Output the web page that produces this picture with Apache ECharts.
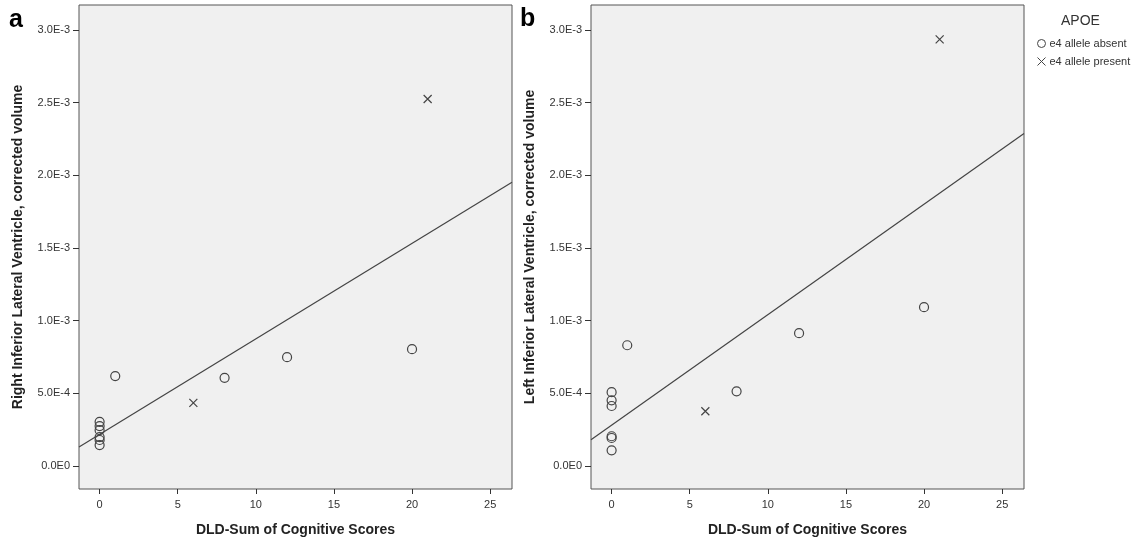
<!DOCTYPE html>
<html>
<head>
<meta charset="utf-8">
<script src="https://cdn.jsdelivr.net/npm/echarts@6/dist/echarts.min.js"></script>
<style>html,body{margin:0;padding:0;background:#fff}#c{width:1145px;height:544px}</style>
</head>
<body>
<div id="c"></div>
<script>
// Panel a: Right Inferior Lateral Ventricle
const xLeftAbsent  = [0, 0, 0, 0, 0, 0, 1, 8, 12, 20];
const yLeftAbsent  = [0.000304, 0.000275, 0.000247, 0.000199, 0.000179, 0.000144, 0.000619, 0.000607, 0.000749, 0.000804];
const xLeftPresent = [6, 21];
const yLeftPresent = [0.000435, 0.002525];
// Panel b: Left Inferior Lateral Ventricle
const xRightAbsent  = [0, 0, 0, 0, 0, 0, 1, 8, 12, 20];
const yRightAbsent  = [0.000508, 0.000452, 0.000413, 0.000205, 0.000193, 0.000108, 0.000831, 0.000514, 0.000914, 0.001093];
const xRightPresent = [6, 21];
const yRightPresent = [0.000377, 0.002936];

const xTicks = [0, 5, 10, 15, 20, 25];
const yTicks = [0, 0.0005, 0.001, 0.0015, 0.002, 0.0025, 0.003];
const legendNames = ['e4 allele absent', 'e4 allele present'];
const yTitles = ['Right Inferior Lateral Ventricle, corrected volume', 'Left Inferior Lateral Ventricle, corrected volume'];
const xTitle = 'DLD-Sum of Cognitive Scores';
const panelLabels = ['a', 'b'];

const X_MIN = -1.32, X_MAX = 26.4, Y_MIN = -0.000158, Y_MAX = 0.003172;
const FONT = 'Arial, "Liberation Sans", sans-serif';

function zip(xs, ys) { return xs.map((x, i) => [x, ys[i]]); }
function fit(xs, ys) {
  const n = xs.length;
  const mx = xs.reduce((a, b) => a + b, 0) / n;
  const my = ys.reduce((a, b) => a + b, 0) / n;
  let sxy = 0, sxx = 0;
  for (let i = 0; i < n; i++) { sxy += (xs[i] - mx) * (ys[i] - my); sxx += (xs[i] - mx) ** 2; }
  const b = sxy / sxx, a = my - b * mx;
  return [[X_MIN, a + b * X_MIN], [X_MAX, a + b * X_MAX]];
}
function sci(v) {
  if (v === 0) return '0.0E0';
  const e = Math.floor(Math.log10(v) + 1e-9);
  const m = v / Math.pow(10, e);
  return m.toFixed(1) + 'E' + e;
}

const crossPath = 'path://M0,0L10,10M10,0L0,10';
const markColor = '#444';

const grids = [
  { left: 79, top: 5, width: 433, height: 484, show: true, backgroundColor: '#f0f0f0', borderColor: '#555', borderWidth: 1 },
  { left: 591, top: 5, width: 433, height: 484, show: true, backgroundColor: '#f0f0f0', borderColor: '#555', borderWidth: 1 }
];

function xAxis(i) {
  return {
    type: 'value', gridIndex: i, min: X_MIN, max: X_MAX,
    name: xTitle, nameLocation: 'middle', nameGap: 34,
    nameTextStyle: { fontFamily: FONT, fontSize: 14, fontWeight: 'bold', color: '#222' },
    axisLine: { show: false, onZero: false },
    axisTick: { show: true, length: 5, customValues: xTicks, lineStyle: { color: '#333' } },
    axisLabel: { customValues: xTicks, margin: 10, fontFamily: FONT, fontSize: 11, color: '#333' },
    splitLine: { show: false }
  };
}
function yAxis(i) {
  return {
    type: 'value', gridIndex: i, min: Y_MIN, max: Y_MAX,
    name: yTitles[i], nameLocation: 'middle', nameGap: 54,
    nameTextStyle: { fontFamily: FONT, fontSize: 14, fontWeight: 'bold', color: '#222' },
    axisLine: { show: false, onZero: false },
    axisTick: { show: true, length: 6, customValues: yTicks, lineStyle: { color: '#333' } },
    axisLabel: { customValues: yTicks, margin: 9, fontFamily: FONT, fontSize: 11, color: '#333', formatter: sci },
    splitLine: { show: false }
  };
}

function scatterSeries(name, i, data, isCross) {
  return {
    type: 'scatter', name: name, xAxisIndex: i, yAxisIndex: i, data: data,
    symbol: isCross ? crossPath : 'circle', symbolSize: isCross ? 8 : 9,
    itemStyle: { color: 'rgba(0,0,0,0)', borderColor: markColor, borderWidth: 1.2, opacity: 1 },
    emphasis: { disabled: true }, z: 3
  };
}
function lineSeries(i, data) {
  return {
    type: 'line', xAxisIndex: i, yAxisIndex: i, data: data, symbol: 'none', silent: true,
    lineStyle: { color: '#444', width: 1.2 }, z: 2
  };
}

const option = {
  animation: false,
  backgroundColor: '#fff',
  grid: grids,
  xAxis: [xAxis(0), xAxis(1)],
  yAxis: [yAxis(0), yAxis(1)],
  title: {
    text: 'APOE', left: 1056, top: 9,
    textStyle: { fontFamily: FONT, fontSize: 14, fontWeight: 'normal', color: '#333' }
  },
  legend: {
    data: legendNames, orient: 'vertical', left: 1037, top: 38, padding: 0,
    itemWidth: 8, itemHeight: 8, itemGap: 7,
    itemStyle: { borderWidth: 1 },
    textStyle: { fontFamily: FONT, fontSize: 11, color: '#333', padding: [0, 0, 0, -1] },
    selectedMode: false
  },
  graphic: [
    { type: 'text', left: 9, top: 8, style: { text: panelLabels[0], font: 'bold 25px ' + FONT, fill: '#000' } },
    { type: 'text', left: 520, top: 7, style: { text: panelLabels[1], font: 'bold 25px ' + FONT, fill: '#000' } }
  ],
  series: [
    lineSeries(0, fit(xLeftAbsent.concat(xLeftPresent), yLeftAbsent.concat(yLeftPresent))),
    lineSeries(1, fit(xRightAbsent.concat(xRightPresent), yRightAbsent.concat(yRightPresent))),
    scatterSeries(legendNames[0], 0, zip(xLeftAbsent, yLeftAbsent), false),
    scatterSeries(legendNames[1], 0, zip(xLeftPresent, yLeftPresent), true),
    scatterSeries(legendNames[0], 1, zip(xRightAbsent, yRightAbsent), false),
    scatterSeries(legendNames[1], 1, zip(xRightPresent, yRightPresent), true)
  ]
};

const chart = echarts.init(document.getElementById('c'), null, { renderer: 'canvas' });
chart.setOption(option);
</script>
</body>
</html>
